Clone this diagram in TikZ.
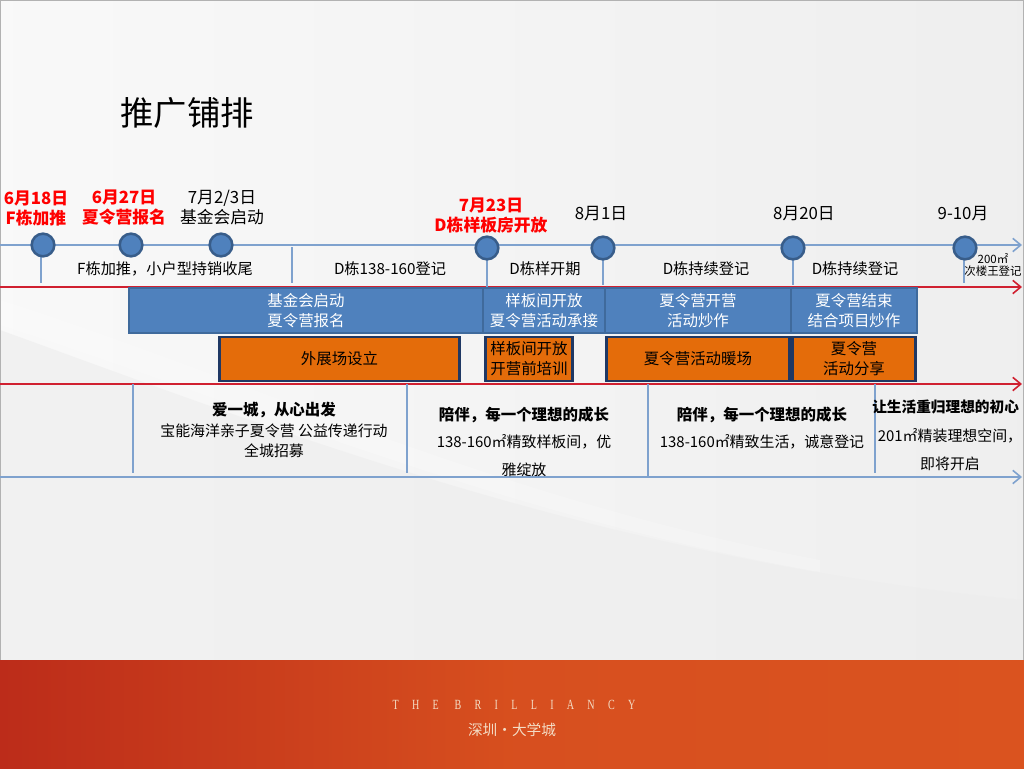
\documentclass[tikz,border=0pt]{standalone}
\usepackage{fontspec}
\setmainfont{Noto Sans CJK SC}
\newfontfamily\brandfont[LetterSpace=95,FakeStretch=0.72]{Liberation Serif}
\usetikzlibrary{arrows.meta}
\definecolor{tlblue}{HTML}{7FA2CE}
\definecolor{dotfill}{HTML}{4F81BD}
\definecolor{dotline}{HTML}{385D8A}
\definecolor{boxblue}{HTML}{4F81BD}
\definecolor{boxblueline}{HTML}{3F6A9C}
\definecolor{boxorange}{HTML}{E46C0A}
\definecolor{navy}{HTML}{1F3864}
\definecolor{redline}{HTML}{D02030}
\definecolor{datered}{HTML}{FF0000}
\definecolor{bandL}{HTML}{BC2C1A}
\definecolor{bandR}{HTML}{DA531F}
\definecolor{cream}{HTML}{F4DCC4}
\tikzset{
  tl/.style={draw=tlblue, line width=1.4pt},
  tlarrow/.style={tl, -{Straight Barb[length=6pt,width=10pt,line width=1.2pt]}},
  redarrow/.style={draw=redline, line width=1.2pt, -{Straight Barb[length=6pt,width=10pt,line width=1.2pt]}},
  tickline/.style={draw=tlblue, line width=1.4pt},
  dot/.style={circle, fill=dotfill, draw=dotline, line width=1.9pt, minimum size=17pt, inner sep=0pt},
  datelab/.style={align=center, font=\fontsize{12.6pt}{15pt}\selectfont, text=black, inner sep=0pt},
  datered/.style={datelab, font=\fontsize{12.6pt}{15pt}\selectfont\bfseries, text=datered},
  sublab/.style={font=\fontsize{11.4pt}{13pt}\selectfont, inner sep=0pt},
  bbox/.style={rectangle, fill=boxblue, draw=boxblueline, line width=1.6pt, text=white, align=center, inner sep=0pt, minimum height=33.5pt, font=\fontsize{11.6pt}{15pt}\selectfont},
  obox/.style={rectangle, fill=boxorange, draw=navy, line width=2.2pt, text=black, align=center, inner sep=0pt, minimum height=33pt, font=\fontsize{11.6pt}{15pt}\selectfont},
  headbold/.style={font=\fontsize{11.6pt}{14pt}\selectfont\bfseries, inner sep=0pt},
  bodytxt/.style={font=\fontsize{11.2pt}{15pt}\selectfont, inner sep=0pt, align=center},
}
\begin{document}
\begin{tikzpicture}[x=0.75pt,y=-0.75pt]
\useasboundingbox (0,0) rectangle (1024,768);
% background
\shade[left color=gray!5, right color=gray!13] (0,0) rectangle (1024,660);
\fill[gray!14, opacity=0.6] (0,330) .. controls (250,420) and (600,560) .. (1024,600) -- (1024,660) -- (0,660) -- cycle;
\fill[white, opacity=0.2] (0,300) .. controls (250,380) and (500,500) .. (820,560) -- (820,572) .. controls (500,515) and (250,405) .. (0,325) -- cycle;
\draw[gray!60, line width=0.8pt] (0,0) rectangle (1024,768);
% footer band
\shade[left color=bandL, right color=bandR, middle color=bandR!90!bandL] (0,660) rectangle (1024,768);
\node[text=cream, font=\brandfont\fontsize{10.5pt}{11pt}\selectfont, inner sep=0pt] (brand) at (514,705) {THE BRILLIANCY};
\node[text=cream, font=\fontsize{11pt}{12pt}\selectfont, inner sep=0pt] (place) at (512,730) {深圳·大学城};
% title
\node[font=\fontsize{25pt}{28pt}\selectfont, inner sep=0pt] (title) at (187,113) {推广铺排};
% main lines
\coordinate (tlL) at (0,245);
\coordinate (tlR) at (1022,245);
\coordinate (r1L) at (0,287);
\coordinate (r1R) at (1022,287);
\coordinate (r2L) at (0,384);
\coordinate (r2R) at (1022,384);
\coordinate (bL) at (0,477);
\coordinate (bR) at (1022,477);
\draw[tlarrow] (tlL) -- (tlR);
\draw[redarrow] (r1L) -- (r1R);
\draw[redarrow] (r2L) -- (r2R);
\draw[tlarrow] (bL) -- (bR);
% timeline ticks
\coordinate (tkA) at (41,245);  \coordinate (tkAb) at (41,283);
\coordinate (tkB) at (292,247); \coordinate (tkBb) at (292,283);
\coordinate (tkC) at (487,245); \coordinate (tkCb) at (487,287);
\coordinate (tkD) at (603,245); \coordinate (tkDb) at (603,285);
\coordinate (tkE) at (793,245); \coordinate (tkEb) at (793,285);
\coordinate (tkF) at (964,245); \coordinate (tkFb) at (964,283);
\foreach \a in {A,B,C,D,E,F} \draw[tickline] (tk\a) -- (tk\a b);
% lower section dividers
\coordinate (vA) at (133,384); \coordinate (vAb) at (133,473);
\coordinate (vB) at (407,384); \coordinate (vBb) at (407,473);
\coordinate (vC) at (648,384); \coordinate (vCb) at (648,477);
\coordinate (vD) at (875,384); \coordinate (vDb) at (875,473);
\foreach \a in {A,B,C,D} \draw[tickline] (v\a) -- (v\a b);
% circles
\node[dot] (d1) at (43,245) {};
\node[dot] (d2) at (131,245) {};
\node[dot] (d3) at (221,245) {};
\node[dot] (d4) at (487,248) {};
\node[dot] (d5) at (603,248) {};
\node[dot] (d6) at (793,248) {};
\node[dot] (d7) at (965,248) {};
% date labels
\node[datered] (l1) at (36,208) {6月18日\\F栋加推};
\node[datered] (l2) at (124,208) {6月27日\\夏令营报名};
\node[datelab] (l3) at (222,208) {7月2/3日\\基金会启动};
\node[datered] (l4) at (491,216) {7月23日\\D栋样板房开放};
\node[datelab] (l5) at (601,214) {8月1日};
\node[datelab] (l6) at (804,214) {8月20日};
\node[datelab] (l7) at (963,214) {9-10月};
% sub labels
\node[sublab] (s1) at (165,269) {F栋加推，小户型持销收尾};
\node[sublab] (s2) at (390,269) {D栋138-160登记};
\node[sublab] (s3) at (545,269) {D栋样开期};
\node[sublab] (s4) at (706,269) {D栋持续登记};
\node[sublab] (s5) at (855,269) {D栋持续登记};
\node[align=center, inner sep=0pt, font=\fontsize{8.6pt}{9.4pt}\selectfont] (s6) at (993,265) {200㎡\\次楼王登记};
% blue boxes
\node[bbox, minimum width=265pt] (b1) at (306,310.5) {基金会启动\\夏令营报名};
\node[bbox, minimum width=91pt] (b2) at (544,310.5) {样板间开放\\夏令营活动承接};
\node[bbox, minimum width=139pt] (b3) at (698,310.5) {夏令营开营\\活动炒作};
\node[bbox, minimum width=94pt] (b4) at (854,310.5) {夏令营结束\\结合项目炒作};
% orange boxes
\node[obox, minimum width=180pt] (o1) at (339.5,359) {外展场设立};
\node[obox, minimum width=65.5pt] (o2) at (529,359) {样板间开放\\开营前培训};
\node[obox, minimum width=137.5pt] (o3) at (698,359) {夏令营活动暖场};
\node[obox, minimum width=92.5pt] (o4) at (854,359) {夏令营\\活动分享};
% lower texts
\node[headbold] (h1) at (274,410) {爱一城，从心出发};
\node[bodytxt] (t1) at (274,441) {宝能海洋亲子夏令营 公益传递行动\\全城招募};
\node[headbold] (h2) at (524,415) {陪伴，每一个理想的成长};
\node[bodytxt, font=\fontsize{11.2pt}{21pt}\selectfont] (t2) at (524,456) {138-160㎡精致样板间，优\\雅绽放};
\node[headbold] (h3) at (762,415) {陪伴，每一个理想的成长};
\node[bodytxt] (t3) at (762,442) {138-160㎡精致生活，诚意登记};
\node[headbold, anchor=west, font=\fontsize{11pt}{14pt}\selectfont\bfseries] (h4) at (872,407) {让生活重归理想的初心};
\node[bodytxt, font=\fontsize{11.2pt}{21pt}\selectfont] (t4) at (950,450) {201㎡精装理想空间，\\即将开启};
\end{tikzpicture}
\end{document}
